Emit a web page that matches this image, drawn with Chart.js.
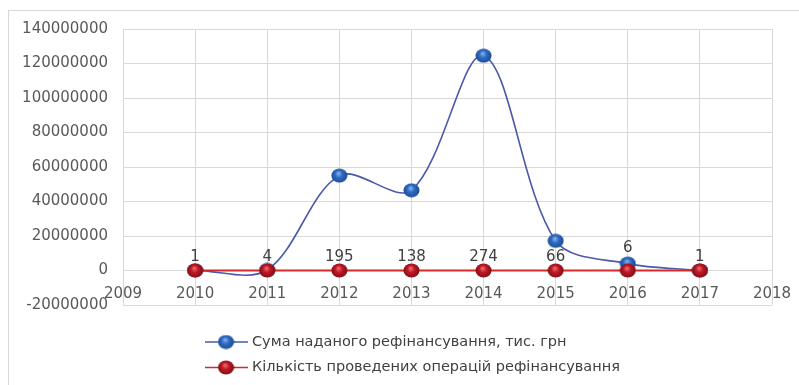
<!DOCTYPE html>
<html>
<head>
<meta charset="utf-8">
<script src="https://cdn.jsdelivr.net/npm/chart.js@4.4.0/dist/chart.umd.min.js"></script>
<style>
  html, body { margin: 0; padding: 0; background: #ffffff; }
  #wrap { position: relative; width: 799px; height: 385px; overflow: hidden; }
  #frame { position: absolute; left: 8px; top: 10px; width: 800px; height: 390px;
           border-left: 1px solid #d9d9d9; border-top: 1px solid #d9d9d9; }
  #c { position: absolute; left: 0; top: 0; }
</style>
</head>
<body>
<div id="wrap">
  <div id="frame"></div>
  <canvas id="c" width="799" height="385"></canvas>
</div>
<script>
// Refinancing by year: amount (thousand UAH) and number of operations
const years = [2010, 2011, 2012, 2013, 2014, 2015, 2016, 2017];
const refinancingSum = [100000, 300000, 55000000, 46500000, 124500000, 17200000, 4000000, 0];
const operationsCount = [1, 4, 195, 138, 274, 66, 6, 1];
const seriesNames = [
  'Сума наданого рефінансування, тис. грн',
  'Кількість проведених операцій рефінансування'
];
const xMin = 2009, xMax = 2018, xStep = 1;
const yMin = -20000000, yMax = 140000000, yStep = 20000000;

const FONT = '"DejaVu Sans", sans-serif';
const TEXT = '#595959';

// Glossy ball marker
function makeBall(base, dark, light) {
  const w = 17, h = 15;
  const cv = document.createElement('canvas');
  cv.width = w; cv.height = h;
  const g = cv.getContext('2d');
  const grad = g.createRadialGradient(w * 0.45, h * 0.35, 0.5, w / 2, h / 2, w * 0.55);
  grad.addColorStop(0, light);
  grad.addColorStop(0.35, base);
  grad.addColorStop(1, dark);
  g.fillStyle = grad;
  g.beginPath();
  g.ellipse(w / 2, h / 2, w / 2 - 0.5, h / 2 - 0.5, 0, 0, Math.PI * 2);
  g.fill();
  return cv;
}
const blueBall = makeBall('#2f6cc4', '#1a3f80', '#7fb0ec');
const redBall = makeBall('#c01826', '#6a0a12', '#e86a6a');

const sumPoints = years.map((x, i) => ({ x, y: refinancingSum[i] }));
const countPoints = years.map((x, i) => ({ x, y: operationsCount[i] }));

// Value labels for the operations count series
const countLabels = {
  id: 'countLabels',
  afterDatasetsDraw(chart) {
    const ctx = chart.ctx;
    const redMeta = chart.getDatasetMeta(1);
    const blueMeta = chart.getDatasetMeta(0);
    ctx.save();
    ctx.font = '15px ' + FONT;
    ctx.fillStyle = '#404040';
    ctx.textAlign = 'center';
    ctx.textBaseline = 'middle';
    redMeta.data.forEach((pt, i) => {
      let y = pt.y - 13;
      const by = blueMeta.data[i].y;
      if (pt.y - by > 3 && pt.y - by < 25) y = by - 15;
      ctx.fillText(String(operationsCount[i]), pt.x, y);
    });
    ctx.restore();
  }
};

// Stacked legend under the plot
const stackedLegend = {
  id: 'stackedLegend',
  afterDraw(chart) {
    const ctx = chart.ctx;
    const items = [
      { text: seriesNames[0], line: '#4a5aa8', ball: blueBall },
      { text: seriesNames[1], line: '#d42a2a', ball: redBall }
    ];
    ctx.save();
    ctx.font = '14.5px ' + FONT;
    ctx.fillStyle = '#404040';
    ctx.textBaseline = 'middle';
    items.forEach((it, i) => {
      const y = 342 + i * 25.5;
      ctx.strokeStyle = it.line;
      ctx.lineWidth = 1.5;
      ctx.beginPath();
      ctx.moveTo(205, y);
      ctx.lineTo(248, y);
      ctx.stroke();
      ctx.drawImage(it.ball, 226 - it.ball.width / 2, y - it.ball.height / 2);
      ctx.fillText(it.text, 252, y);
    });
    ctx.restore();
  }
};

new Chart(document.getElementById('c'), {
  type: 'scatter',
  data: {
    datasets: [
      {
        label: seriesNames[0],
        data: sumPoints,
        showLine: true,
        borderColor: '#4a5aa8',
        borderWidth: 1.6,
        tension: 0.33,
        pointStyle: blueBall,
        pointRadius: 8,
        order: 2
      },
      {
        label: seriesNames[1],
        data: countPoints,
        showLine: true,
        borderColor: '#d42a2a',
        borderWidth: 2,
        tension: 0,
        pointStyle: redBall,
        pointRadius: 8,
        order: 1
      }
    ]
  },
  options: {
    responsive: false,
    animation: false,
    layout: { padding: { left: 0, right: 27, top: 29, bottom: 80 } },
    plugins: {
      legend: { display: false },
      tooltip: { enabled: false }
    },
    scales: {
      x: {
        type: 'linear',
        position: { y: 0 },
        min: xMin, max: xMax,
        ticks: {
          stepSize: xStep,
          color: TEXT,
          font: { family: FONT, size: 15 },
          padding: 15,
          callback: v => String(v)
        },
        grid: { color: '#d9d9d9', drawTicks: false },
        border: { color: '#d9d9d9' },
        afterFit: s => { s.paddingLeft = 20; s.paddingRight = 20; }
      },
      y: {
        min: yMin, max: yMax,
        ticks: {
          stepSize: yStep,
          color: TEXT,
          font: { family: FONT, size: 15 },
          padding: 15,
          callback: v => String(v)
        },
        grid: { color: '#d9d9d9', drawTicks: false },
        border: { color: '#d9d9d9' },
        afterFit: s => { s.width = 123; }
      }
    }
  },
  plugins: [countLabels, stackedLegend]
});
</script>
</body>
</html>
